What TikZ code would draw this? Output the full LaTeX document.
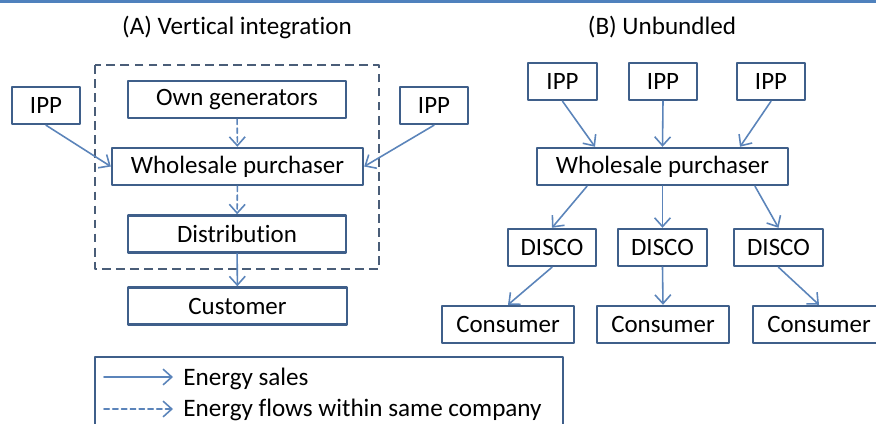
\documentclass[tikz,border=0pt]{standalone}
\usepackage{fontspec}
\setmainfont{Carlito}[Ligatures=NoCommon]
\usepackage{tikz}
\usetikzlibrary{calc}
\usetikzlibrary{arrows.meta}
\usetikzlibrary{positioning}
\definecolor{boxline}{HTML}{3F5F8A}
\definecolor{arrowblue}{HTML}{5B84BA}
\definecolor{topblue}{HTML}{4F81BD}
\definecolor{dashline}{HTML}{4A5D78}

\begin{document}
\begin{tikzpicture}[x=0.02cm, y=-0.02cm, line cap=round, line join=round,
    >={Straight Barb[length=5pt, width=9pt]},
    unit/.style={draw=boxline, line width=1.4pt, fill=white, minimum height=0.74cm,
      inner sep=0pt, font=\fontsize{14.2}{17}\selectfont},
    sale/.style={->, arrowblue, line width=0.9pt},
    inhouse/.style={->, arrowblue, line width=0.9pt, dash pattern=on 3pt off 2pt},
    title/.style={font=\fontsize{14.3}{17}\selectfont}]
  \useasboundingbox (0,0) rectangle (876,423);
  %--- top rule
    \fill[topblue] (0,0) rectangle (876,2.5);
  %--- titles
    \node[title] (titleA) at (237,27) {(A) Vertical integration};
    \node[title] (titleB) at (662,27) {(B) Unbundled};
  %--- (A) company outline
    \draw[dashline, line width=1.5pt, dash pattern=on 5pt off 3pt, line cap=butt] (95,65) rectangle (379,269);
  %--- (A) boxes
    \node[unit, minimum width=4.36cm] (owngen) at (237,99.5) {Own generators};
    \node[unit, minimum width=5.02cm] (wholesaleA) at (237.5,166.5) {Wholesale purchaser};
    \node[unit, minimum width=4.36cm] (distrib) at (237,234) {Distribution};
    \node[unit, minimum width=4.38cm] (customer) at (237.5,306) {Customer};
    \node[unit, minimum width=1.36cm] (ippL) at (46,105.5) {IPP};
    \node[unit, minimum width=1.36cm] (ippR) at (434,105.5) {IPP};
  %--- (A) arrows
    \draw[inhouse] (owngen) -- (wholesaleA);
    \draw[inhouse] (wholesaleA) -- (distrib);
    \draw[sale] (distrib) -- (customer);
    \draw[sale] (ippL.south) -- (wholesaleA.west);
    \draw[sale] (ippR.south) -- (wholesaleA.east);
  %--- (B) boxes
    \node[unit, minimum width=1.38cm] (ippBa) at (562.5,81.5) {IPP};
    \node[unit, minimum width=1.36cm] (ippBb) at (663,81.5) {IPP};
    \node[unit, minimum width=1.36cm] (ippBc) at (771,81.5) {IPP};
    \node[unit, minimum width=5.02cm] (wholesaleB) at (662.5,166.5) {Wholesale purchaser};
    \node[unit, minimum width=1.76cm] (discoA) at (552,247.5) {DISCO};
    \node[unit, minimum width=1.78cm] (discoB) at (662.5,247.5) {DISCO};
    \node[unit, minimum width=1.78cm] (discoC) at (778.5,247.5) {DISCO};
    \node[unit, minimum width=2.64cm] (consA) at (508,324.5) {Consumer};
    \node[unit, minimum width=2.64cm] (consB) at (663,324.5) {Consumer};
    \node[unit, minimum width=2.64cm] (consC) at (819,324.5) {Consumer};
  %--- (B) arrows
    \draw[sale] (ippBa.south) -- ($(wholesaleB.north)+(-67.5,0)$);
    \draw[sale] (ippBb.south) -- (wholesaleB.north);
    \draw[sale] (ippBc.south) -- ($(wholesaleB.north)+(77.5,0)$);
    \draw[sale] ($(wholesaleB.south)+(-75.5,0)$) -- (discoA.north);
    \draw[sale] (wholesaleB.south) -- (discoB.north);
    \draw[sale] ($(wholesaleB.south)+(92.5,0)$) -- (discoC.north);
    \draw[sale] (discoA.south) -- (consA.north);
    \draw[sale] (discoB.south) -- (consB.north);
    \draw[sale] (discoC.south) -- (consC.north);
  %--- legend
    \draw[boxline, line width=1.4pt] (95,430) -- (95,357) -- (563,357) -- (563,430);
    \coordinate (saleL) at (104,377);
    \coordinate (saleR) at (173,377);
    \coordinate (flowL) at (104,409);
    \coordinate (flowR) at (173,409);
    \draw[sale] (saleL) -- (saleR);
    \draw[inhouse] (flowL) -- (flowR);
    \node[title, anchor=west, inner sep=0pt] (saleText) at (183,379) {Energy sales};
    \node[title, anchor=west, inner sep=0pt] (flowText) at (183,410) {Energy flows within same company};
\end{tikzpicture}
\end{document}
